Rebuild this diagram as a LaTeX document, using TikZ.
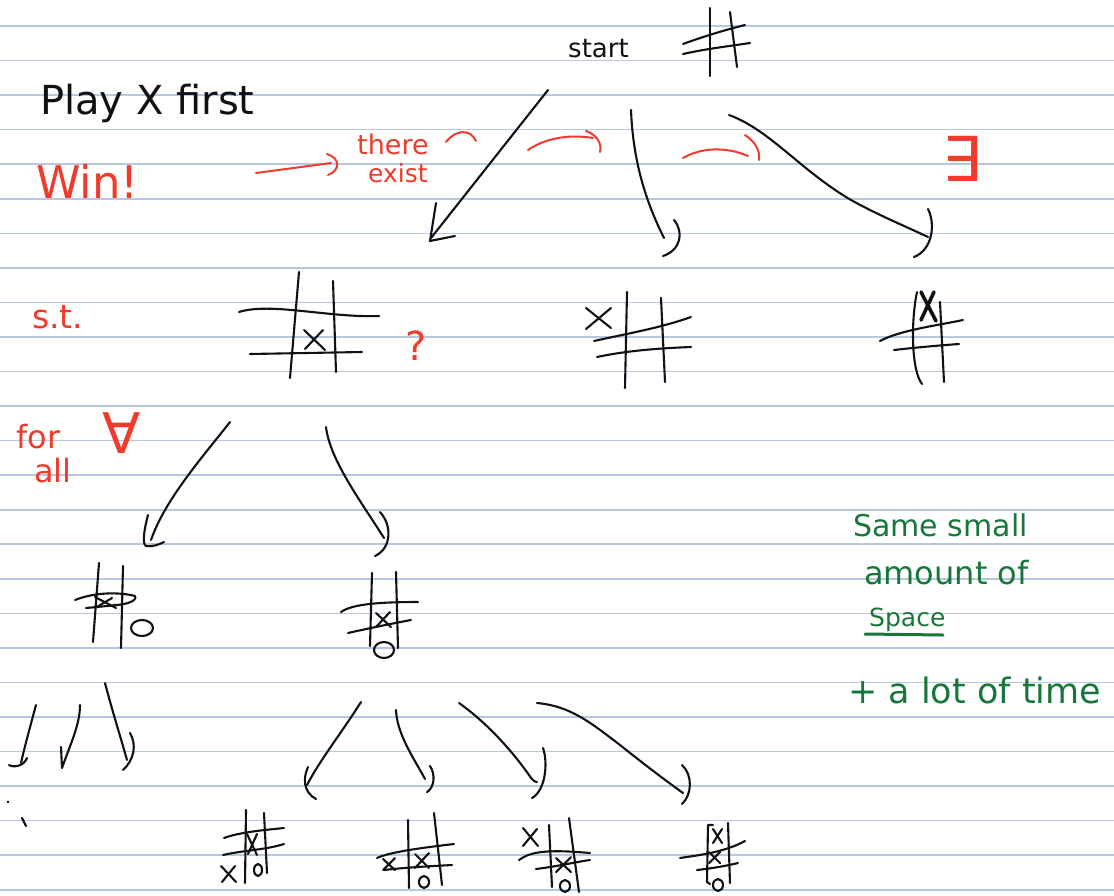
\documentclass[tikz,border=0pt]{standalone}
\usepackage{fontspec}
\setmainfont{DejaVu Sans}
\definecolor{rulecol}{HTML}{B7C7E0}
\definecolor{pen}{HTML}{111111}
\definecolor{redpen}{HTML}{EE3B2B}
\definecolor{greenpen}{HTML}{17773A}
\tikzset{
  ink/.style={draw=pen, line width=2.1pt, line cap=round, line join=round},
  boldink/.style={draw=pen, line width=3.6pt, line cap=round, line join=round},
  redink/.style={draw=redpen, line width=2pt, line cap=round, line join=round},
  greenink/.style={draw=greenpen, line width=3pt, line cap=round},
  ruled/.style={draw=rulecol, line width=1.6pt},
  txt/.style={inner sep=0pt, anchor=base west},
  blacktxt/.style={txt, text=pen},
  redtxt/.style={txt, text=redpen},
  greentxt/.style={txt, text=greenpen},
}
\newcommand{\fsz}[1]{\fontsize{#1}{#1}\selectfont}
\begin{document}
\begin{tikzpicture}[x=1pt,y=-1pt]
\fill[white] (0,0) rectangle (1114,895);
\useasboundingbox (0,0) rectangle (1114,895);
\foreach \k in {0,...,25} \draw[ruled] (0,{26+34.55*\k}) -- (1114,{26+34.55*\k});

% ---------------- texts ----------------
\node[blacktxt, font=\fsz{40}] (play) at (40,114) {Play X first};
\node[blacktxt, font=\fsz{26}] (start) at (568,57) {start};
\node[redtxt, font=\fsz{45}] (win) at (36,198) {Win!};
\node[redtxt, font=\fsz{27}] (there) at (357,154) {there};
\node[redtxt, font=\fsz{25}] (exist) at (368,182) {exist};
\node[redtxt, font=\fsz{62}] (exists) at (942,181) {∃};
\node[redtxt, font=\fsz{33}] (st) at (32,328) {s.t.};
\node[redtxt, font=\fsz{40}] (q) at (405,360) {?};
\node[redtxt, font=\fsz{32}] (for) at (16,448) {for};
\node[redtxt, font=\fsz{32}] (all) at (34,482) {all};
\node[redtxt, font=\fsz{56}] (forall) at (102,453) {∀};
\node[greentxt, font=\fsz{30}] (g1) at (853,536) {Same small};
\node[greentxt, font=\fsz{32}] (g2) at (864,584) {amount of};
\node[greentxt, font=\fsz{25}] (g3) at (869,626) {Space};
\node[greentxt, font=\fsz{35}] (g4) at (848,703) {+ a lot of time};
\draw[greenink] (865,634) -- (943,635);

% ---------------- red marks ----------------
\coordinate (rw1) at (256,173); \coordinate (rw2) at (331,163);
\draw[redink] (rw1) -- (rw2);
\draw[redink] (327,154) .. controls (340,158) and (341,170) .. (328,175);
\draw[redink] (446,142) .. controls (455,130) and (470,128) .. (476,141);
\draw[redink] (528,150) .. controls (545,138) and (570,134) .. (593,138);
\draw[redink] (586,131) .. controls (598,135) and (602,145) .. (600,152);
\draw[redink] (683,158) .. controls (700,148) and (725,146) .. (748,156);
\draw[redink] (745,135) .. controls (757,143) and (760,152) .. (759,160);

% ---------------- start board ----------------
\draw[ink] (710,8) -- (710,76);
\draw[ink] (730,12) -- (737,67);
\draw[ink] (683,44) .. controls (705,36) and (725,30) .. (745,25);
\draw[ink] (683,54) .. controls (705,49) and (730,46) .. (750,43);

% arrows from start
\coordinate (s1) at (548,90); \coordinate (e1) at (431,238);
\draw[ink] (s1) -- (e1);
\draw[ink] (436,203) -- (430,241) -- (455,236);
\coordinate (s2) at (631,110); \coordinate (e2) at (664,238);
\draw[ink] (s2) .. controls (633,160) and (645,200) .. (e2);
\draw[ink] (674,220) .. controls (684,232) and (681,250) .. (663,256);
\coordinate (s3) at (729,115); \coordinate (e3) at (928,237);
\draw[ink] (s3) .. controls (770,130) and (800,170) .. (851,200) .. controls (880,216) and (905,226) .. (e3);
\draw[ink] (928,209) .. controls (936,225) and (932,250) .. (914,257);

% ---------------- level 1 boards ----------------
% left
\draw[ink] (299,272) -- (290,378);
\draw[ink] (333,281) -- (336,372);
\draw[ink] (239,312) .. controls (270,302) and (330,318) .. (379,316);
\draw[ink] (250,354) -- (362,352);
\draw[ink] (304,330) -- (325,350);
\draw[ink] (305,349) -- (323,330);
% middle
\draw[ink] (627,292) -- (625,388);
\draw[ink] (661,298) -- (665,382);
\draw[ink] (594,341) .. controls (630,333) and (660,328) .. (691,317);
\draw[ink] (597,357) .. controls (630,350) and (665,348) .. (691,347);
\draw[ink] (586,308) -- (611,328);
\draw[ink] (586,329) -- (611,308);
% right
\draw[ink] (917,292) .. controls (911,320) and (911,370) .. (922,384);
\draw[ink] (940,302) -- (944,382);
\draw[ink] (880,341) .. controls (900,330) and (940,325) .. (963,320);
\draw[ink] (894,350) .. controls (920,347) and (945,345) .. (959,344);
\draw[boldink] (921,292) -- (936,321);
\draw[boldink] (934,292) -- (921,320);

% arrows from level-1 left board
\coordinate (s4) at (230,422); \coordinate (e4) at (151,540);
\draw[ink] (s4) .. controls (200,460) and (165,500) .. (e4);
\draw[ink] (148,515) .. controls (144,530) and (142,544) .. (146,546) .. controls (152,547) and (158,545) .. (164,542);
\coordinate (s5) at (326,427); \coordinate (e5) at (384,538);
\draw[ink] (s5) .. controls (330,460) and (360,500) .. (e5);
\draw[ink] (380,512) .. controls (392,525) and (392,548) .. (375,556);

% ---------------- level 2 boards ----------------
% left
\draw[ink] (99,563) -- (93,642);
\draw[ink] (123,566) -- (121,648);
\draw[ink] (75,600) .. controls (95,592) and (120,592) .. (135,596) .. controls (138,601) and (125,605) .. (114,605);
\draw[ink] (86,608) -- (118,605);
\draw[ink] (95,597) -- (116,608);
\draw[ink] (97,607) -- (112,598);
\draw[ink] (142,628) ellipse [x radius=11, y radius=8];
% right
\draw[ink] (372,573) -- (370,646);
\draw[ink] (396,572) -- (398,648);
\draw[ink] (341,612) .. controls (352,604) and (380,602) .. (418,602);
\draw[ink] (348,633) .. controls (370,628) and (395,623) .. (411,620);
\draw[ink] (376,613) -- (391,627);
\draw[ink] (376,627) -- (390,612);
\draw[ink] (384,650) ellipse [x radius=10, y radius=8];

% arrows from level-2 left board
\coordinate (s6) at (36,705); \coordinate (e6) at (21,763);
\draw[ink] (s6) .. controls (32,720) and (25,745) .. (e6);
\draw[ink] (9,765) .. controls (14,768) and (24,766) .. (27,758);
\coordinate (s7) at (80,705); \coordinate (e7) at (62,768);
\draw[ink] (s7) .. controls (80,725) and (70,745) .. (e7) -- (61,747);
\coordinate (s8) at (105,683); \coordinate (e8) at (127,760);
\draw[ink] (s8) .. controls (112,710) and (120,735) .. (e8);
\draw[ink] (130,733) .. controls (137,745) and (134,760) .. (123,770);
\fill[pen] (8,802) circle (1.4);
\draw[ink] (22,818) -- (26,826);

% arrows from level-2 right board
\coordinate (s9) at (361,702); \coordinate (e9) at (307,785);
\draw[ink] (s9) .. controls (340,735) and (320,760) .. (e9);
\draw[ink] (308,767) .. controls (303,778) and (303,792) .. (316,799);
\coordinate (s10) at (396,710); \coordinate (e10) at (425,779);
\draw[ink] (s10) .. controls (397,735) and (415,760) .. (e10);
\draw[ink] (430,766) .. controls (436,775) and (434,788) .. (427,792);
\coordinate (s11) at (459,703); \coordinate (e11) at (537,782);
\draw[ink] (s11) .. controls (490,725) and (515,755) .. (529,775) .. controls (532,780) and (535,782) .. (e11);
\draw[ink] (543,748) .. controls (548,762) and (546,790) .. (532,798);
\coordinate (s12) at (537,703); \coordinate (e12) at (683,793);
\draw[ink] (s12) .. controls (570,706) and (590,722) .. (620,745) .. controls (645,765) and (665,780) .. (e12);
\draw[ink] (682,765) .. controls (693,775) and (692,795) .. (682,804);

% ---------------- level 3 boards ----------------
% B1
\draw[ink] (246,810) -- (245,883);
\draw[ink] (264,813) -- (267,873);
\draw[ink] (224,838) .. controls (240,832) and (265,830) .. (284,828);
\draw[ink] (223,855) .. controls (245,850) and (265,850) .. (284,844);
\draw[ink] (247,834) -- (257,855);
\draw[ink] (257,834) -- (248,854);
\draw[ink] (221,866) -- (236,882);
\draw[ink] (222,882) -- (235,866);
\draw[ink] (258,870) ellipse [x radius=4, y radius=6];
% B2
\draw[ink] (408,820) -- (409,888);
\draw[ink] (434,813) -- (442,885);
\draw[ink] (377,858) .. controls (390,852) and (420,848) .. (454,844);
\draw[ink] (384,870) .. controls (410,867) and (435,866) .. (452,865);
\draw[ink] (383,859) -- (395,870);
\draw[ink] (383,870) -- (395,858);
\draw[ink] (415,854) -- (429,868);
\draw[ink] (415,868) -- (429,853);
\draw[ink] (424,882) ellipse [x radius=5, y radius=6];
% B3
\draw[ink] (549,825) -- (552,887);
\draw[ink] (569,818) -- (579,892);
\draw[ink] (519,860) .. controls (530,852) and (545,849) .. (590,853);
\draw[ink] (536,869) .. controls (560,866) and (575,862) .. (590,860);
\draw[ink] (523,828) -- (538,846);
\draw[ink] (523,846) -- (537,829);
\draw[ink] (556,858) -- (571,872);
\draw[ink] (556,872) -- (571,857);
\draw[ink] (565,886) ellipse [x radius=5, y radius=6];
% B4
\draw[ink] (713,825) -- (708,825) -- (707,882) -- (710,884);
\draw[ink] (728,823) -- (730,883);
\draw[ink] (680,858) .. controls (700,855) and (725,852) .. (745,841);
\draw[ink] (697,870) .. controls (715,868) and (730,865) .. (738,863);
\draw[ink] (713,829) -- (722,843);
\draw[ink] (722,829) -- (713,843);
\draw[ink] (709,852) -- (720,863);
\draw[ink] (709,863) -- (720,852);
\draw[ink] (718,885) ellipse [x radius=5, y radius=6];
\end{tikzpicture}
\end{document}
